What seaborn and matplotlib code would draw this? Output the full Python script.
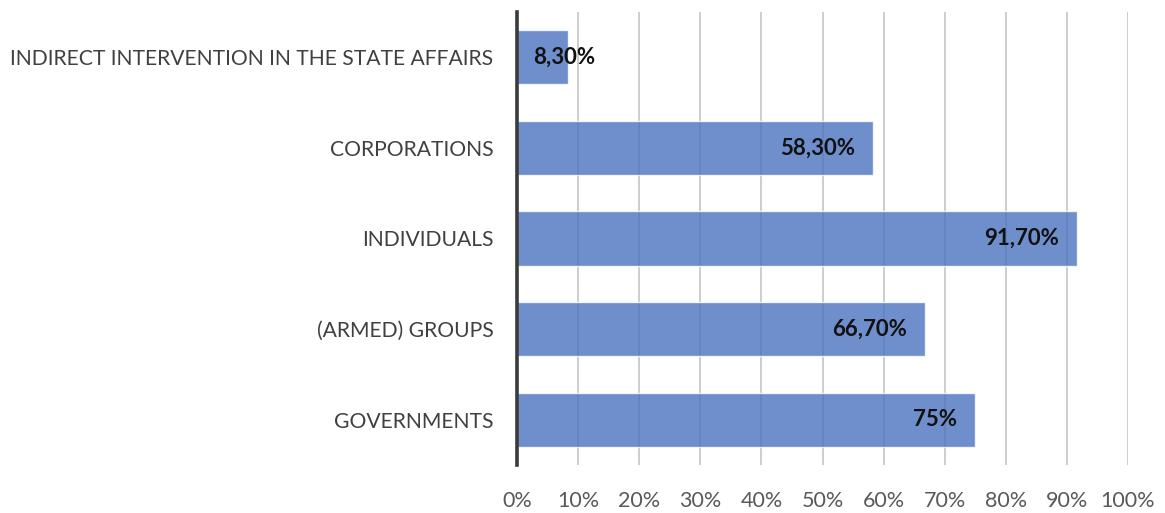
import matplotlib
matplotlib.use("Agg")
import matplotlib.pyplot as plt
import matplotlib.transforms as mtransforms
import seaborn as sns
import pandas as pd

# Share of responses per category (percent)
categories = [
    "INDIRECT INTERVENTION IN THE STATE AFFAIRS",
    "CORPORATIONS",
    "INDIVIDUALS",
    "(ARMED) GROUPS",
    "GOVERNMENTS",
]
values = [8.3, 58.3, 91.7, 66.7, 75.0]
x_ticks = [0, 10, 20, 30, 40, 50, 60, 70, 80, 90, 100]


def fmt_pct(v):
    if float(v).is_integer():
        return f"{v:.0f}%"
    return f"{v:.2f}".replace(".", ",") + "%"


sns.set_theme(style="white")
plt.rcParams["font.family"] = ["Lato", "DejaVu Sans"]

df = pd.DataFrame({"category": categories, "value": values})

fig = plt.figure(figsize=(11.65, 5.13), dpi=100)
ax = fig.add_axes([517 / 1165, 1 - 465 / 513, (1128 - 517) / 1165, (465 - 12) / 513])

ax.set_axisbelow(True)
for t in x_ticks:
    ax.axvline(t, color="#c9c9c9", lw=1.3, zorder=0)

sns.barplot(data=df, x="value", y="category", orient="h", color="#4a72c0",
            alpha=0.8, width=0.6, saturation=1, ax=ax, zorder=2)

ax.set_xlim(0, 100)
ax.set_ylim(len(categories) - 0.5, -0.5)
ax.set_xticks(x_ticks)
ax.set_xticklabels([f"{t}%" for t in x_ticks])
ax.set_xlabel("")
ax.set_ylabel("")
ax.tick_params(axis="x", length=0, pad=19, labelsize=15.5, labelcolor="#595959")
ax.tick_params(axis="y", length=0, pad=17, labelsize=15.2, labelcolor="#404040")

for side in ["top", "right", "bottom"]:
    ax.spines[side].set_visible(False)
ax.spines["left"].set_color("#3a3a3a")
ax.spines["left"].set_linewidth(2.6)
ax.spines["left"].set_zorder(5)

# Value labels inside the bar end; short bars get the label from the axis
px_to_pt = 72 / fig.dpi
for i, v in enumerate(values):
    label = fmt_pct(v)
    if v >= 20:
        off = mtransforms.offset_copy(ax.transData, fig=fig, x=-18 * px_to_pt, y=0, units="points")
        ax.text(v, i, label, transform=off, ha="right", va="center",
                fontsize=16, fontweight="bold", color="#111111", zorder=4)
    else:
        off = mtransforms.offset_copy(ax.transData, fig=fig, x=16 * px_to_pt, y=0, units="points")
        ax.text(0, i, label, transform=off, ha="left", va="center",
                fontsize=16, fontweight="bold", color="#111111", zorder=4)

fig.savefig("out.png", dpi=100, facecolor="white")
